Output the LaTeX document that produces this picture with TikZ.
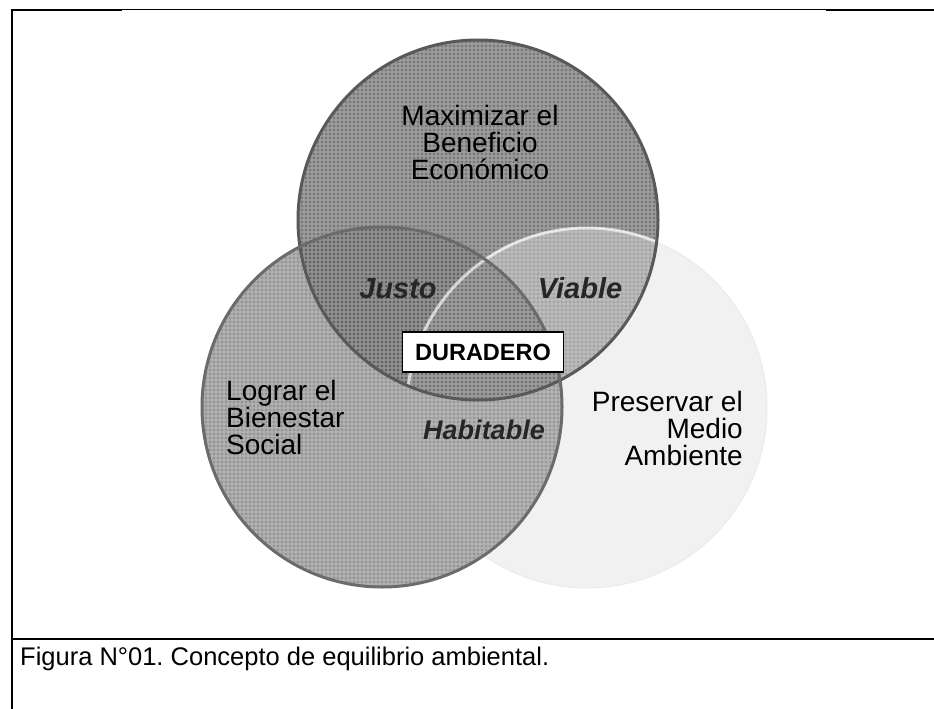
\documentclass[tikz,border=0pt]{standalone}
\usepackage{fontspec}
\setmainfont{Liberation Sans}
\usepackage{tikz}
\usetikzlibrary{backgrounds}
\definecolor{ceconomico}{HTML}{7A7A7A}
\definecolor{csocial}{HTML}{959595}
\definecolor{cambiente}{HTML}{F1F1F1}
\definecolor{cjusto}{HTML}{626262}
\definecolor{cviable}{HTML}{A4A4A4}
\definecolor{chabitable}{HTML}{989898}
\definecolor{cduradero}{HTML}{717171}
\frenchspacing
\tikzset{
	rotulo/.style={font=\fontsize{28}{27}\selectfont, inner sep=0pt},
	zona/.style={font=\fontsize{29}{29}\selectfont\bfseries\itshape, text=black!85, inner sep=0pt, anchor=base},
	caja/.style={draw=black, line width=1.5pt, fill=white, minimum width=161pt, minimum height=40pt, inner sep=0pt, font=\fontsize{23.5}{23.5}\selectfont\bfseries},
	trama/.style={white, line width=1.2pt, step=4pt}
}
\begin{document}
\begin{tikzpicture}[x=1pt,y=-1pt]
			\useasboundingbox (0,0) rectangle (934,709);
			% marco
			\draw[line width=2pt] (12,709) -- (12,10) -- (122,10);
			\draw[line width=1pt] (122,10) -- (826,10);
			\draw[line width=2.5pt] (826,10) -- (934,10);
			\draw[line width=2pt] (12,639) -- (934,639);
			% circulos
			\coordinate (T) at (478,220);
			\coordinate (L) at (382,407);
			\coordinate (R) at (587,408);
			\fill[ceconomico] (T) circle (180pt);
			\filldraw[fill=cambiente, draw=black!8, line width=1pt] (R) circle (180pt);
			\begin{scope}
				\clip (T) circle (180pt);
				\fill[cviable] (R) circle (180pt);
			\end{scope}
			\fill[csocial] (L) circle (180pt);
			\begin{scope}
				\clip (L) circle (180pt);
				\fill[chabitable] (R) circle (180pt);
				\fill[cjusto] (T) circle (180pt);
				\clip (T) circle (180pt);
				\fill[cduradero] (R) circle (180pt);
			\end{scope}
			\begin{scope}[transparency group, opacity=0.3]
				\begin{scope}
					\clip (T) circle (180pt);
					\draw[trama] (290,30) grid (670,410);
				\end{scope}
				\begin{scope}
					\clip (L) circle (180pt);
					\draw[trama] (190,220) grid (570,600);
				\end{scope}
			\end{scope}
			\begin{scope}
				\clip (T) circle (180pt);
				\draw[line width=3pt, white, opacity=0.65] (R) circle (180pt);
			\end{scope}
			\draw[line width=3pt, black!65] (T) circle (180pt);
			\draw[line width=3pt, black!58] (L) circle (180pt);
			% textos
			\node[rotulo, align=center] (economico) at (480,142) {Maximizar el\\Beneficio\\Económico};
			\node[rotulo, align=left, anchor=west] (social) at (226,417) {Lograr el\\Bienestar\\Social};
			\node[rotulo, align=right, anchor=east] (ambiente) at (743,428) {Preservar el\\Medio\\Ambiente};
			\node[zona] (justo) at (398,298) {Justo};
			\node[zona] (viable) at (580,298) {Viable};
			\node[zona, font=\fontsize{27}{27}\selectfont\bfseries\itshape] (habitable) at (484,439) {Habitable};
			\node[caja] (duradero) at (483,352) {DURADERO};
			\node[anchor=base west, inner sep=0pt, font=\fontsize{25.5}{25.5}\selectfont] (pie) at (20,665) {Figura N°01. Concepto de equilibrio ambiental.};
		\end{tikzpicture}
\end{document}
